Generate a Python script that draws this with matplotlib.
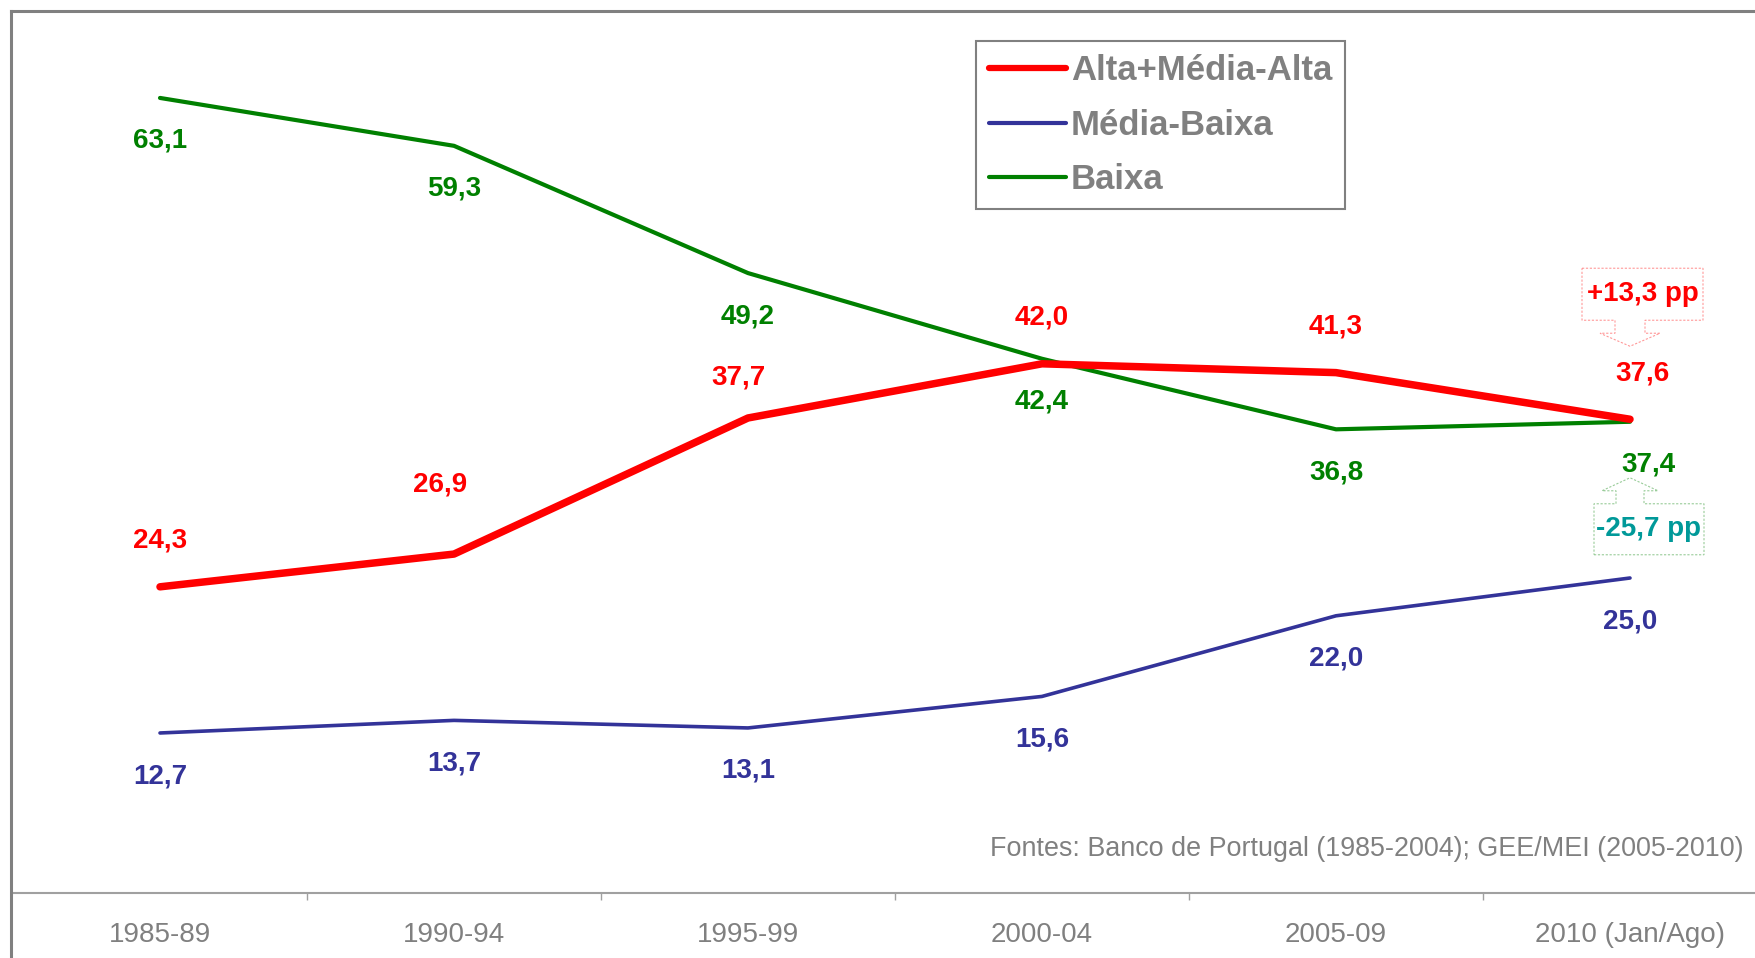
import numpy as np
import matplotlib
matplotlib.use("Agg")
import matplotlib.pyplot as plt
from matplotlib.lines import Line2D
from matplotlib.patches import Polygon
import matplotlib.transforms as mtransforms

periods = ["1985-89", "1990-94", "1995-99", "2000-04", "2005-09", "2010 (Jan/Ago)"]
alta = [24.3, 26.9, 37.7, 42.0, 41.3, 37.6]
media_baixa = [12.7, 13.7, 13.1, 15.6, 22.0, 25.0]
baixa = [63.1, 59.3, 49.2, 42.4, 36.8, 37.4]
var_alta = "+13,3 pp"
var_baixa = "-25,7 pp"
fonte = "Fontes: Banco de Portugal (1985-2004); GEE/MEI (2005-2010)"

RED = "#FF0000"
BLUE = "#333399"
GREEN = "#008000"
GRAY = "#808080"

W, H = 1755, 958
fig = plt.figure(figsize=(W / 100, H / 100), dpi=100)
ax = fig.add_axes([13 / W, 65 / H, 1764 / W, 882 / H])

x = np.arange(len(periods))
ax.plot(x, alta, color=RED, lw=5.4, solid_capstyle="round", label="Alta+Média-Alta", zorder=3)
ax.plot(x, media_baixa, color=BLUE, lw=2.6, solid_capstyle="round", label="Média-Baixa", zorder=3)
ax.plot(x, baixa, color=GREEN, lw=3.0, solid_capstyle="round", label="Baixa", zorder=2)

ax.set_xlim(-0.5, len(periods) - 0.5)
ax.set_ylim(0, 70)
ax.set_yticks([])
for s in ["top", "right", "left"]:
    ax.spines[s].set_visible(False)
ax.spines["bottom"].set_color("#A0A0A0")
ax.spines["bottom"].set_linewidth(1.5)

ax.set_xticks(x)
ax.set_xticklabels(periods, family="Liberation Sans", fontsize=20, color=GRAY)
ax.tick_params(axis="x", which="major", length=0, pad=21)
ax.set_xticks(x[:-1] + 0.5, minor=True)
ax.tick_params(axis="x", which="minor", length=5, width=1, color="#A0A0A0", direction="out")

lab_font = dict(family="Liberation Sans", weight="bold", fontsize=20)


def fmt(v):
    return f"{v:.1f}".replace(".", ",")


# data labels: red above, others below
n = len(periods) - 1
for i, v in enumerate(alta):
    dx, dy = 0, 33
    if i == 1:
        dx, dy = -10, 50
    if i == 2:
        dx, dy = -7, 29
    if i == n:
        dx = 9
    ax.annotate(fmt(v), (i, v), xytext=(dx, dy), textcoords="offset points",
                ha="center", va="center", color=RED, **lab_font)
for i, v in enumerate(baixa):
    dx = 13 if i == n else 0
    ax.annotate(fmt(v), (i, v), xytext=(dx, -31), textcoords="offset points",
                ha="center", va="center", color=GREEN, **lab_font)
for i, v in enumerate(media_baixa):
    ax.annotate(fmt(v), (i, v), xytext=(0, -31), textcoords="offset points",
                ha="center", va="center", color=BLUE, **lab_font)


def callout(anchor, box, stem, wing, neck, tip, edge, text, tcolor, down=True):
    # shape in pixel offsets from the anchor point (y up)
    x0, x1, yb0, yb1 = box
    pts = [(x0, yb1), (x1, yb1), (x1, yb0), (stem, yb0), (stem, neck), (wing, neck),
           (0, tip), (-wing, neck), (-stem, neck), (-stem, yb0), (x0, yb0)]
    if not down:
        pts = [(px, -py) for px, py in pts]
    ox, oy = ax.transData.transform(anchor)
    tr = mtransforms.Affine2D().translate(ox, oy)
    fig.patches.append(Polygon(pts, closed=True, fill=False, ec=edge, lw=0.8,
                               ls=(0, (2, 1.5)), transform=tr, figure=fig))
    ty = (yb0 + yb1) / 2 * (1 if down else -1)
    fig.text(ox + (x0 + x1) / 2, oy + ty, text, transform=mtransforms.IdentityTransform(),
             ha="center", va="center", color=tcolor, **lab_font)


callout((n, alta[n]), (-48, 73, 99, 151), 15, 30, 86, 73, "#FF9999",
        var_alta, RED, down=True)
callout((n, baixa[n]), (-36, 74, 82, 133), 14, 28, 69, 56, "#99CC99",
        var_baixa, "#009999", down=False)

leg = ax.legend(loc="upper left", bbox_to_anchor=(976 / W, 1 - 41 / H),
                bbox_transform=fig.transFigure, borderaxespad=0,
                prop=dict(family="Liberation Sans", weight="bold", size=25),
                labelcolor=GRAY, handlelength=2.2, handletextpad=0.15,
                labelspacing=0.62, borderpad=0.38, fancybox=False, framealpha=1)
leg.get_frame().set_edgecolor(GRAY)
leg.get_frame().set_linewidth(1.5)
for h in leg.get_lines():
    h.set_solid_capstyle("round")
    h.set_linewidth(4.5 if h.get_color() == RED else 3)

fig.text(990 / W, 1 - 856 / H, fonte, family="Liberation Sans",
         fontsize=19.4, color=GRAY, va="baseline", ha="left")

# outer chart frame (left and top edges)
fig.add_artist(Line2D([11 / W, 11 / W], [0, 1 - 11 / H], color=GRAY, lw=2.2,
                      transform=fig.transFigure))
fig.add_artist(Line2D([11 / W, 1], [1 - 11 / H, 1 - 11 / H], color=GRAY, lw=2.2,
                      transform=fig.transFigure))

fig.savefig("out.png", dpi=100)
